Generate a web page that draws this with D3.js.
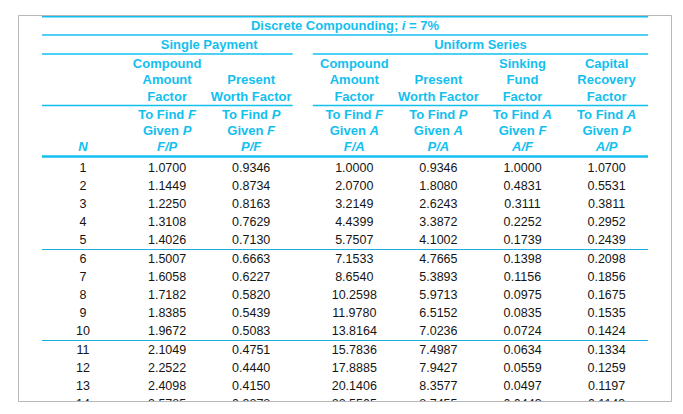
<!DOCTYPE html>
<html><head><meta charset="utf-8">
<script src="https://cdn.jsdelivr.net/npm/d3@7"></script>
<style>
html,body{margin:0;padding:0;background:#fff;}
svg{display:block;font-family:"Liberation Sans",Arial,Helvetica,sans-serif;}
</style></head>
<body><svg id="c" width="683" height="414"></svg>
<script>
// ---- data ----
const N  = [1,2,3,4,5,6,7,8,9,10,11,12,13,14];
const FP = [1.0700,1.1449,1.2250,1.3108,1.4026,1.5007,1.6058,1.7182,1.8385,1.9672,2.1049,2.2522,2.4098,2.5785];
const PF = [0.9346,0.8734,0.8163,0.7629,0.7130,0.6663,0.6227,0.5820,0.5439,0.5083,0.4751,0.4440,0.4150,0.3878];
const FA = [1.0000,2.0700,3.2149,4.4399,5.7507,7.1533,8.6540,10.2598,11.9780,13.8164,15.7836,17.8885,20.1406,22.5505];
const PA = [0.9346,1.8080,2.6243,3.3872,4.1002,4.7665,5.3893,5.9713,6.5152,7.0236,7.4987,7.9427,8.3577,8.7455];
const AF = [1.0000,0.4831,0.3111,0.2252,0.1739,0.1398,0.1156,0.0975,0.0835,0.0724,0.0634,0.0559,0.0497,0.0443];
const AP = [1.0700,0.5531,0.3811,0.2952,0.2439,0.2098,0.1856,0.1675,0.1535,0.1424,0.1334,0.1259,0.1197,0.1143];

const title = ["Discrete Compounding; ", {i:"i"}, " = 7%"];
const groups = [{name:"Single Payment", cols:[1,2]}, {name:"Uniform Series", cols:[3,4,5,6]}];
const factorNames = [
  [],
  ["Compound","Amount","Factor"],
  ["","Present","Worth Factor"],
  ["Compound","Amount","Factor"],
  ["","Present","Worth Factor"],
  ["Sinking","Fund","Factor"],
  ["Capital","Recovery","Factor"]
];
const findLabels = [
  null,
  ["F","P"],["P","F"],["F","A"],["P","A"],["A","F"],["A","P"]
];
const series = [N, FP, PF, FA, PA, AF, AP];

// ---- layout ----
const svg = d3.select("#c");
const BLUE = "#12c0ef", LINE = "#12b6e6", INK = "#151515";
const L = 42, R = 648;
const colX = i => {
  const s = d3.scaleLinear().domain([0,1]).range([0,84.1]);
  return 83 + s(i) + (i >= 3 ? 19 : 0);
};
const colHalf = 41.5;
const rowY = i => 167 + i*18 + Math.floor(i/5)*1;

const defs = svg.append("defs");
defs.append("clipPath").attr("id","clip").append("rect")
  .attr("x",18).attr("y",15).attr("width",654).attr("height",386.5);
const g = svg.append("g").attr("clip-path","url(#clip)");

function hline(x1,x2,y,w,c){
  g.append("line").attr("x1",x1).attr("x2",x2).attr("y1",y).attr("y2",y)
   .attr("stroke",c||LINE).attr("stroke-width",w);
}
hline(L,R,16.5,2,BLUE);
hline(L,R,35,1.3,BLUE);
groups.forEach(gr=>{
  const x1 = gr.cols[0]===1 ? L : colX(gr.cols[0])-colHalf;
  const x2 = colX(gr.cols[gr.cols.length-1])+colHalf;
  hline(x1,x2,54,1.3,BLUE);
  hline(x1,x2,105.5,1.3,BLUE);
});
hline(L,R,156.5,2.5,BLUE);
[5,10].forEach(k=>{
  const y = (rowY(k-1)+rowY(k))/2 + 1;
  hline(L,R,y,1.2,"#1aaee0");
});

const hdr = g.append("g").attr("fill",BLUE).attr("font-weight","bold")
  .attr("font-size","13px").attr("text-anchor","middle");
function mixed(sel, parts){
  parts.forEach(p=>{
    if (typeof p === "string") sel.append("tspan").text(p);
    else sel.append("tspan").attr("font-style","italic").text(p.i);
  });
}
const tt = hdr.append("text").attr("x",(L+R)/2).attr("y",25.5).attr("dy","0.36em");
mixed(tt, title);
groups.forEach(gr=>{
  const cx = (colX(gr.cols[0]) + colX(gr.cols[gr.cols.length-1]))/2;
  hdr.append("text").attr("x",cx).attr("y",44).attr("dy","0.36em").text(gr.name);
});
const nameY = [63,79.5,96];
factorNames.forEach((lines,ci)=>{
  lines.forEach((t,li)=>{
    if (t) hdr.append("text").attr("x",colX(ci)).attr("y",nameY[li]).attr("dy","0.36em").text(t);
  });
});
findLabels.forEach((fl,ci)=>{
  if (!fl) return;
  const a = hdr.append("text").attr("x",colX(ci)).attr("y",114).attr("dy","0.36em");
  mixed(a, ["To Find ", {i:fl[0]}]);
  const b = hdr.append("text").attr("x",colX(ci)).attr("y",130).attr("dy","0.36em");
  mixed(b, ["Given ", {i:fl[1]}]);
  hdr.append("text").attr("x",colX(ci)).attr("y",146.5).attr("dy","0.36em")
    .attr("font-style","italic").text(fl[0]+"/"+fl[1]);
});
hdr.append("text").attr("x",colX(0)).attr("y",146.5).attr("dy","0.36em")
  .attr("font-style","italic").text("N");

const fmt = d3.format(".4f");
const body = g.append("g").attr("fill",INK).attr("font-size","12.5px").attr("text-anchor","middle");
series.forEach((arr,ci)=>{
  body.selectAll(null).data(arr).join("text")
    .attr("x",colX(ci)).attr("y",(d,i)=>rowY(i)).attr("dy","0.36em")
    .text(d => ci===0 ? d : fmt(d));
});

svg.append("path")
  .attr("d","M18.5,401.5 L18.5,15.5 L671.5,15.5 L671.5,401.5 Z")
  .attr("fill","none").attr("stroke","#b8b8b8").attr("stroke-width",1);
</script></body></html>
